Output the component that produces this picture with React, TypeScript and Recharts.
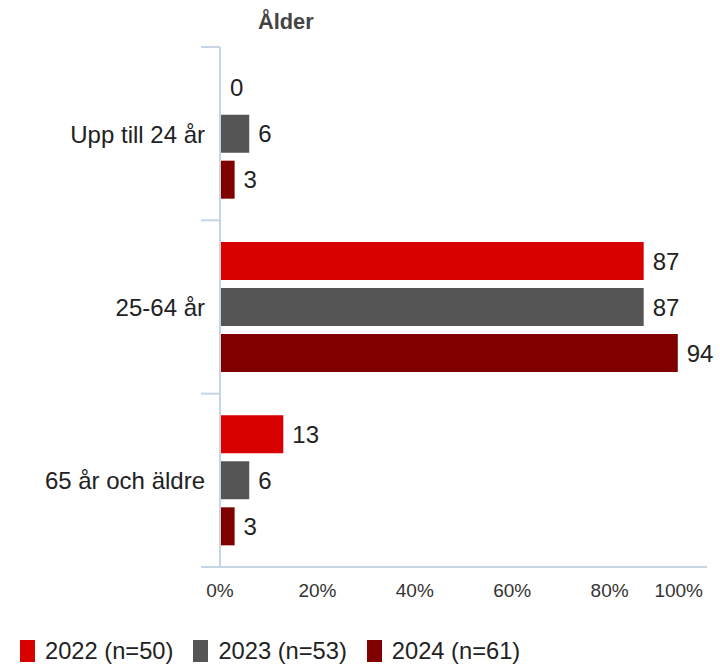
import { Bar, BarChart, LabelList, Legend, XAxis, YAxis } from "recharts";

const categories = ["Upp till 24 år", "25-64 år", "65 år och äldre"];
const values2022 = [0, 87, 13];
const values2023 = [6, 87, 6];
const values2024 = [3, 94, 3];
const xTicks = [0, 20, 40, 60, 80, 100];

const seriesNames = ["2022 (n=50)", "2023 (n=53)", "2024 (n=61)"];
const seriesColors = ["#d90000", "#555555", "#800000"];

const data = categories.map((name, i) => ({
  name,
  y2022: values2022[i],
  y2023: values2023[i],
  y2024: values2024[i],
}));

const FONT = '"Liberation Sans", Arial, sans-serif';
const AXIS = "#c6d4e4";
const HALF_BAND = 520 / 6;

function CategoryTick(props: any) {
  const { x, y, payload, index } = props;
  const axisX = x + 15;
  const last = index === categories.length - 1;
  return (
    <g>
      <line x1={axisX - 19} x2={axisX} y1={y - HALF_BAND} y2={y - HALF_BAND} stroke={AXIS} strokeWidth={2} />
      {last && (
        <line x1={axisX - 19} x2={axisX} y1={y + HALF_BAND} y2={y + HALF_BAND} stroke={AXIS} strokeWidth={2} />
      )}
      <text x={x} y={y} dy={9} textAnchor="end" fontSize={24} fill="#222" fontFamily={FONT}>
        {payload.value}
      </text>
    </g>
  );
}

function PercentTick(props: any) {
  const { x, y, payload } = props;
  const last = payload.value === 100;
  return (
    <text
      x={last ? x - 4 : x}
      y={y}
      dy={22}
      textAnchor={last ? "end" : "middle"}
      fontSize={19}
      fill="#333"
      fontFamily={FONT}
    >
      {`${payload.value}%`}
    </text>
  );
}

function LegendContent() {
  return (
    <div style={{ height: 51, display: "flex", paddingLeft: 20, paddingTop: 23, boxSizing: "border-box" }}>
      {seriesNames.map((n, i) => (
        <div key={n} style={{ display: "flex", alignItems: "center", marginRight: 20, height: 22 }}>
          <span style={{ width: 15, height: 22, background: seriesColors[i], display: "inline-block", marginRight: 10 }} />
          <span style={{ fontSize: 23.7, color: "#222", fontFamily: FONT, lineHeight: "22px" }}>{n}</span>
        </div>
      ))}
    </div>
  );
}

export default function App() {
  const keys = ["y2022", "y2023", "y2024"];
  return (
    <div style={{ position: "absolute", left: 0, top: 0, width: 720, height: 668, background: "#fff", fontFamily: FONT }}>
      <div
        style={{
          position: "absolute",
          left: 258,
          top: 9,
          fontSize: 21.8,
          fontWeight: "bold",
          color: "#444",
        }}
      >
        Ålder
      </div>
      <BarChart
        width={720}
        height={668}
        data={data}
        layout="vertical"
        margin={{ top: 47, right: 13, left: 0, bottom: 0 }}
        barCategoryGap="12.5%"
        barGap={8}
      >
        <XAxis
          type="number"
          domain={[0, 100]}
          ticks={xTicks}
          interval={0}
          height={50}
          tickLine={false}
          axisLine={{ stroke: AXIS, strokeWidth: 2 }}
          tick={<PercentTick />}
        />
        <YAxis
          type="category"
          dataKey="name"
          width={220}
          tickSize={0}
          tickMargin={15}
          tickLine={false}
          axisLine={{ stroke: AXIS, strokeWidth: 2 }}
          tick={<CategoryTick />}
          interval={0}
        />
        <Legend verticalAlign="bottom" content={<LegendContent />} />
        {keys.map((k, i) => (
          <Bar
            key={k}
            dataKey={k}
            name={seriesNames[i]}
            fill={seriesColors[i]}
            minPointSize={1}
            isAnimationActive={false}
          >
            <LabelList dataKey={k} position="right" offset={9} fontSize={24} fill="#222" fontFamily={FONT} />
          </Bar>
        ))}
      </BarChart>
    </div>
  );
}
